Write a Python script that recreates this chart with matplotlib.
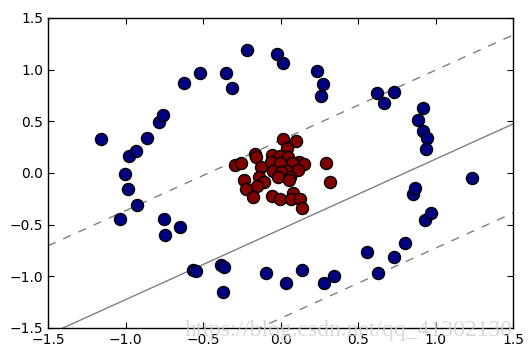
import matplotlib
matplotlib.use("Agg")
import matplotlib.pyplot as plt
import numpy as np

# outer ring (class 0)
outer_x = [-1.158, -1.003, -0.984, -0.926, -1.035, -0.977, -0.932, -0.861, -0.784, -0.758,
           -0.752, -0.745, -0.648, -0.623, -0.523, -0.565, -0.545, -0.352, -0.313, -0.216,
           -0.384, -0.365, -0.371, -0.094, -0.023, 0.016, 0.035, 0.139, 0.235, 0.274,
           0.261, 0.281, 0.345, 0.558, 0.629, 0.623, 0.668, 0.732, 0.732, 0.803,
           0.919, 0.887, 0.919, 0.945, 0.939, 0.855, 0.868, 0.932, 0.971, 1.235]
outer_y = [0.329, -0.010, -0.155, -0.310, -0.445, 0.165, 0.213, 0.339, 0.494, 0.561,
           -0.445, -0.600, -0.523, 0.871, 0.968, -0.939, -0.949, 0.968, 0.823, 1.190,
           -0.890, -0.910, -1.152, -0.965, 1.152, 1.065, -1.065, -0.939, 0.987, 0.862,
           0.745, -1.065, -0.997, -0.765, -0.968, 0.774, 0.678, 0.784, -0.813, -0.678,
           0.629, 0.513, 0.407, 0.339, 0.232, -0.203, -0.145, -0.455, -0.387, -0.048]

# inner cluster (class 1)
inner_x = [0.016, 0.100, 0.042, -0.165, -0.158, -0.055, -0.003, 0.048, 0.119, 0.152,
           0.294, -0.294, -0.255, -0.126, -0.061, 0.074, -0.003, 0.042, -0.048, 0.003,
           0.113, -0.016, 0.061, 0.055, -0.139, -0.235, -0.106, -0.152, -0.223, 0.319,
           -0.177, -0.055, -0.003, 0.081, 0.068, 0.126, 0.139]
inner_y = [0.329, 0.310, 0.242, 0.184, 0.155, 0.174, 0.165, 0.155, 0.106, 0.087,
           0.097, 0.077, 0.097, 0.058, 0.106, 0.097, 0.097, 0.019, 0.019, 0.010,
           0.029, -0.039, -0.039, -0.068, -0.039, -0.068, -0.087, -0.126, -0.155, -0.087,
           -0.232, -0.223, -0.252, -0.194, -0.252, -0.252, -0.339]

# linear decision boundary and margins
slope = 0.68
intercept = -0.546
margin = 0.861

lim = (-1.5, 1.5)
ticks = [-1.5, -1.0, -0.5, 0.0, 0.5, 1.0, 1.5]

fig = plt.figure(figsize=(5.28, 3.5), dpi=100)
ax = fig.add_axes([0.091, 0.063, 0.881, 0.886])

ax.scatter(outer_x, outer_y, s=75, c="#000080", edgecolors="black", linewidths=1, zorder=3)
ax.scatter(inner_x, inner_y, s=75, c="#800000", edgecolors="black", linewidths=1, zorder=3)

xs = np.array(lim)
ax.plot(xs, slope * xs + intercept, color="gray", lw=1, ls="-")
ax.plot(xs, slope * xs + intercept + margin, color="gray", lw=1, ls=(0, (6, 6)))
ax.plot(xs, slope * xs + intercept - margin, color="gray", lw=1, ls=(0, (6, 6)))

ax.set_xlim(lim)
ax.set_ylim(lim)
ax.set_xticks(ticks)
ax.set_yticks(ticks)
ax.tick_params(direction="in", top=True, right=True, length=4, labelsize=10)
for s in ax.spines.values():
    s.set_linewidth(1)

# blog watermark
fig.text(0.972, 0.057, "https://blog.csdn.net/qq_41302130", ha="right", va="center",
         fontsize=17, family="Liberation Serif", color="#d0d0d0", alpha=0.8, zorder=10)

fig.savefig("out.png", dpi=100)
